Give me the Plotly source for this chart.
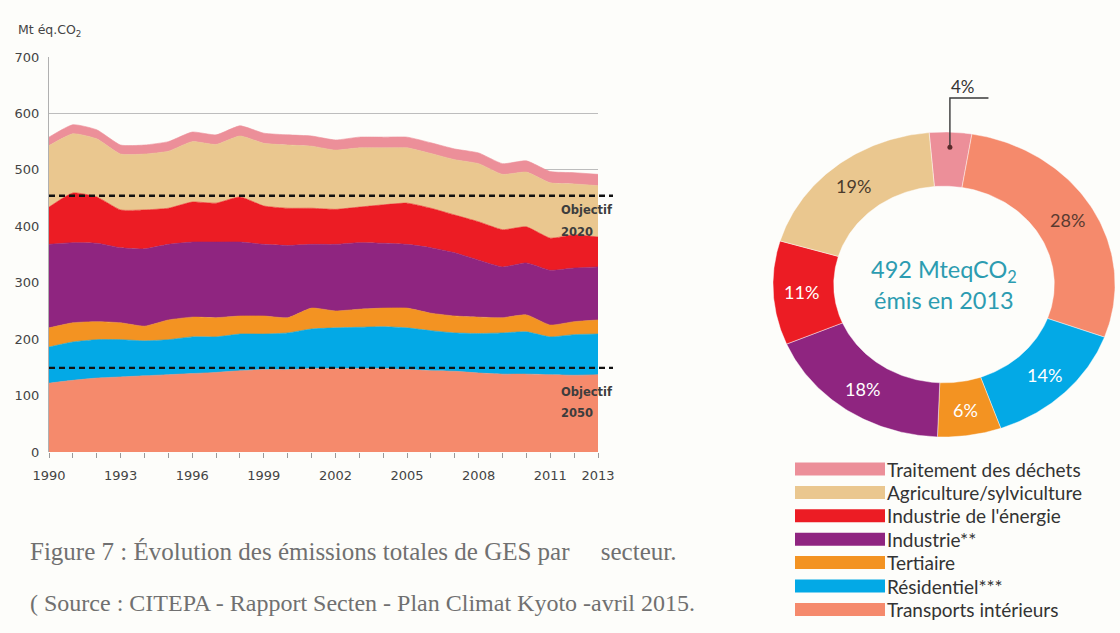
import numpy as np
import plotly.graph_objects as go

W, H = 1120, 633

# ---- data -------------------------------------------------------------
years = list(range(1990, 2014))
tick_years = [1990, 1993, 1996, 1999, 2002, 2005, 2008, 2011, 2013]

# Emissions by sector, Mt eq. CO2 (bottom of the stack first)
transports = [122, 127, 131, 133, 135, 137, 139, 141, 144, 146, 146, 148,
              148, 148, 148, 146, 144, 143, 140, 138, 138, 137, 136, 137]
residentiel = [64, 68, 68, 66, 62, 62, 65, 63, 65, 63, 65, 70,
               72, 73, 74, 74, 71, 68, 70, 73, 75, 67, 72, 72]
tertiaire = [34, 34, 32, 30, 26, 35, 35, 34, 32, 32, 27, 37,
             30, 32, 33, 35, 31, 30, 29, 27, 30, 21, 23, 25]
industrie = [148, 142, 139, 133, 137, 134, 133, 134, 131, 127, 128, 113,
             118, 118, 115, 113, 116, 112, 101, 90, 92, 97, 95, 94]
energie = [66, 88, 82, 67, 69, 64, 71, 69, 80, 68, 66, 64,
           62, 63, 68, 73, 70, 67, 68, 66, 64, 57, 59, 53]
agriculture = [109, 105, 103, 99, 99, 101, 107, 104, 108, 111, 112, 110,
               105, 105, 101, 98, 97, 98, 103, 98, 97, 98, 90, 91]
dechets = [15, 16, 16, 16, 16, 17, 17, 17, 18, 18, 18, 18,
           18, 19, 19, 19, 19, 19, 19, 19, 20, 20, 20, 20]

objectif_2020 = 454
objectif_2050 = 149

# 2013 shares, clockwise from the top
part_labels = ["Traitement des déchets", "Transports intérieurs", "Résidentiel***",
               "Tertiaire", "Industrie**", "Industrie de l'énergie",
               "Agriculture/sylviculture"]
part_pct = [4, 28, 14, 6, 18, 11, 19]
total_2013 = 492

# ---- styling ----------------------------------------------------------
colors = {
    "Traitement des déchets": "#ec8f99",
    "Agriculture/sylviculture": "#eac78f",
    "Industrie de l'énergie": "#ec1c24",
    "Industrie**": "#8f2580",
    "Tertiaire": "#f39322",
    "Résidentiel***": "#03a9e6",
    "Transports intérieurs": "#f58a6c",
}
legend_order = ["Traitement des déchets", "Agriculture/sylviculture",
                "Industrie de l'énergie", "Industrie**", "Tertiaire",
                "Résidentiel***", "Transports intérieurs"]

stack = [
    ("Transports intérieurs", transports),
    ("Résidentiel***", residentiel),
    ("Tertiaire", tertiaire),
    ("Industrie**", industrie),
    ("Industrie de l'énergie", energie),
    ("Agriculture/sylviculture", agriculture),
    ("Traitement des déchets", dechets),
]


def px_x(p):
    return p / W


def px_y(p):
    return 1 - p / H


fig = go.Figure()

# stacked areas
for name, vals in stack:
    fig.add_trace(go.Scatter(
        x=years, y=vals, name=name, stackgroup="ges", mode="lines",
        line=dict(width=0.6, color=colors[name], shape="spline", smoothing=0.5),
        fillcolor=colors[name], showlegend=False, hoverinfo="x+y+name",
    ))

# ---- donut (drawn on its own axes so it can be elliptical) ----------
hole = 0.645
start_deg = -5.0
ang = start_deg
label_color = {"Agriculture/sylviculture": "#4b3b2c", "Transports intérieurs": "#5a3a30"}
mid_angles = []
for name, pct in zip(part_labels, part_pct):
    a0 = np.radians(ang)
    a1 = np.radians(ang + pct * 3.6)
    t = np.linspace(a0, a1, 80)
    xs = np.concatenate([np.sin(t), hole * np.sin(t[::-1]), [np.sin(t[0])]])
    ys = np.concatenate([np.cos(t), hole * np.cos(t[::-1]), [np.cos(t[0])]])
    fig.add_trace(go.Scatter(
        x=xs, y=ys, xaxis="x2", yaxis="y2", mode="lines", fill="toself",
        fillcolor=colors[name], line=dict(color="rgba(255,255,255,0.55)", width=0.8),
        showlegend=False, hoverinfo="text", text=f"{name} {pct}%",
    ))
    mid_angles.append((name, pct, (a0 + a1) / 2))
    ang += pct * 3.6

annotations = []
r_lab = 0.835
for name, pct, m in mid_angles:
    if name == "Traitement des déchets":
        continue
    annotations.append(dict(
        x=r_lab * np.sin(m), y=r_lab * np.cos(m), xref="x2", yref="y2",
        text=f"{pct}%", showarrow=False,
        font=dict(family="Lato", size=18, color=label_color.get(name, "white")),
    ))

# small share: leader line above the ring
m_w = mid_angles[0][2]
lx0, ly0 = 0.9 * np.sin(m_w), 0.9 * np.cos(m_w)
fig.add_trace(go.Scatter(
    x=[lx0, lx0, 0.26], y=[ly0, 1.223, 1.223], xaxis="x2", yaxis="y2",
    mode="lines", line=dict(color="#3a3a3a", width=1.4),
    showlegend=False, hoverinfo="skip",
))
fig.add_trace(go.Scatter(
    x=[lx0], y=[ly0], xaxis="x2", yaxis="y2", mode="markers",
    marker=dict(color="#5a2a2a", size=5), showlegend=False, hoverinfo="skip",
))
annotations.append(dict(
    x=0.11, y=1.30, xref="x2", yref="y2", text=f"{part_pct[0]}%",
    showarrow=False, font=dict(family="Lato", size=17, color="#333333"),
))
annotations.append(dict(
    x=0, y=0, xref="x2", yref="y2",
    text=f"{total_2013} MteqCO<sub>2</sub><br>émis en 2013",
    showarrow=False, font=dict(family="Lato", size=23.5, color="#2c9cb1"),
))

# ---- objective lines ------------------------------------------------
shapes = []
for val in (objectif_2020, objectif_2050):
    shapes.append(dict(
        type="line", xref="paper", yref="y", x0=px_x(49), x1=px_x(613),
        y0=val, y1=val, line=dict(color="#111111", width=2.4, dash="6px,4px"),
        layer="above",
    ))
for val, yr, dy1, dy2 in ((objectif_2020, "2020", 14, 36),
                          (objectif_2050, "2050", 24, 45)):
    for txt, dy in (("Objectif", dy1), (yr, dy2)):
        annotations.append(dict(
            x=px_x(559), y=val, xref="paper", yref="y", yshift=-dy,
            xanchor="left", yanchor="middle", text=f"<b>{txt}</b>",
            showarrow=False,
            font=dict(family="DejaVu Sans", size=11.5, color="#3d3d3d"),
        ))

# ---- custom legend --------------------------------------------------
row0, row_step = 469, 23.4
for i, name in enumerate(legend_order):
    cy = row0 + i * row_step
    shapes.append(dict(
        type="rect", xref="paper", yref="paper",
        x0=px_x(795), x1=px_x(885), y0=px_y(cy + 6.5), y1=px_y(cy - 6.5),
        fillcolor=colors[name], line=dict(width=0),
    ))
    annotations.append(dict(
        x=px_x(885), y=px_y(cy), xref="paper", yref="paper",
        xanchor="left", yanchor="middle", text=name, showarrow=False,
        font=dict(family="Lato", size=19, color="#333333"),
    ))

# ---- unit label and captions ---------------------------------------
annotations.append(dict(
    x=px_x(16), y=px_y(30), xref="paper", yref="paper", xanchor="left",
    yanchor="middle", text="Mt éq.CO<sub>2</sub>", showarrow=False,
    font=dict(family="DejaVu Sans", size=12.5, color="#444444"),
))
annotations.append(dict(
    x=px_x(28), y=px_y(551), xref="paper", yref="paper", xanchor="left",
    yanchor="middle",
    text="Figure 7 : Évolution des émissions totales de GES par"
         + "\u00a0" * 5 + "secteur.",
    showarrow=False,
    font=dict(family="Liberation Serif", size=25, color="#707070"),
))
annotations.append(dict(
    x=px_x(28), y=px_y(603), xref="paper", yref="paper", xanchor="left",
    yanchor="middle",
    text="( Source : CITEPA - Rapport Secten - Plan Climat Kyoto -avril 2015.",
    showarrow=False,
    font=dict(family="Liberation Serif", size=24, color="#707070"),
))

fig.update_layout(
    width=W, height=H, autosize=False,
    margin=dict(l=0, r=0, t=0, b=0, pad=0, autoexpand=False),
    paper_bgcolor="#fdfdfa", plot_bgcolor="#fdfdfa",
    showlegend=False,
    xaxis=dict(
        domain=[px_x(49), px_x(598)], range=[1990, 2013],
        tickvals=tick_years, automargin=False,
        ticks="outside", ticklen=5, tickcolor="#9a9a9a", tickwidth=1,
        ticklabelstandoff=6,
        minor=dict(dtick=1, tick0=1990, ticks="outside", ticklen=5,
                   tickcolor="#9a9a9a", showgrid=False),
        showgrid=False, zeroline=False, showline=False,
        tickfont=dict(family="DejaVu Sans", size=13, color="#444444"),
        fixedrange=True,
    ),
    yaxis=dict(
        domain=[px_y(452), px_y(57)], range=[0, 700],
        tickvals=list(range(0, 701, 100)), automargin=False,
        showgrid=True, gridcolor="#bdbdbd", gridwidth=1,
        zeroline=False, showline=True, linecolor="#b0b0b0", linewidth=1,
        ticks="", ticklabelstandoff=6,
        tickfont=dict(family="DejaVu Sans", size=13, color="#444444"),
        fixedrange=True,
    ),
    xaxis2=dict(domain=[px_x(773), px_x(1115)], range=[-1, 1], visible=False,
                fixedrange=True, automargin=False),
    yaxis2=dict(domain=[px_y(437), px_y(71)], range=[-1, 1.4], visible=False,
                fixedrange=True, anchor="x2", automargin=False),
    shapes=shapes,
    annotations=annotations,
)

fig.write_html(
    "out.html",
    post_script="document.body.style.margin='0';document.body.style.overflow='hidden';",
)
